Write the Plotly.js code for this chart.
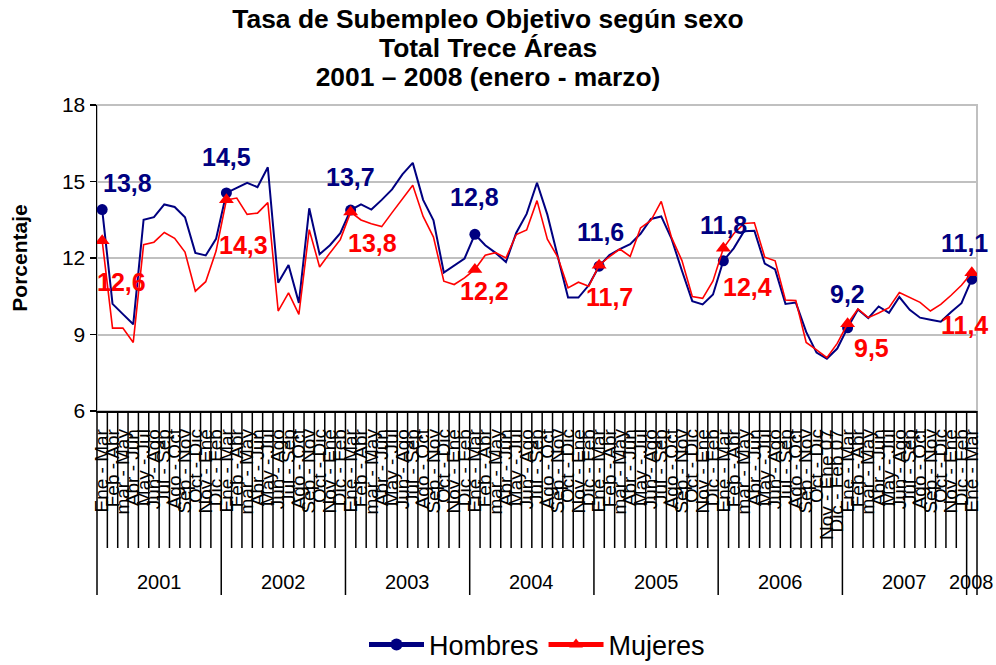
<!DOCTYPE html>
<html>
<head>
<meta charset="utf-8">
<script src="https://cdn.plot.ly/plotly-3.0.1.min.js"></script>
<style>html,body{margin:0;padding:0;background:#fff;}#chart{width:996px;height:665px;}</style>
</head>
<body>
<div id="chart"></div>
<script>
const years = ['2001','2002','2003','2004','2005','2006','2007','2008'];
const yearCounts = [12,12,12,12,12,12,12,1];
const periods = [
 'Ene - Mar','Feb - Abr','mar - May','Abr - Jun','May - Jul','Jun - Ago','Jul - Sep','Ago - Oct','Sep - Nov','Oct - Dic','Nov - Ene','Dic - Feb',
 'Ene - Mar','Feb - Abr','mar - May','Abr - Jun','May - Jul','Jun - Ago','Jul - Sep','Ago - Oct','Sep - Nov','Oct - Dic','Nov - Ene','Dic - Feb',
 'Ene - Mar','Feb - Abr','mar - May','Abr - Jun','May - Jul','Jun - Ago','Jul - Sep','Ago - Oct','Sep - Nov','Oct - Dic','Nov - Ene','Dic - Feb',
 'Ene - Mar','Feb - Abr','mar - May','Abr - Jun','May - Jul','Jun - Ago','Jul - Sep','Ago - Oct','Sep - Nov','Oct - Dic','Nov - Ene','Dic - Feb',
 'Ene - Mar','Feb - Abr','mar - May','Abr - Jun','May - Jul','Jun - Ago','Jul - Sep','Ago - Oct','Sep - Nov','Oct - Dic','Nov - Ene','Dic - Feb',
 'Ene - Mar','Feb - Abr','mar - May','Abr - Jun','May - Jul','Jun - Ago','Jul - Sep','Ago - Oct','Sep - Nov','Oct - Dic','Nov - Ene 07','Dic - Feb 07',
 'Ene - Mar','Feb - Abr','mar - May','Abr - Jun','May - Jul','Jun - Ago','Jul - Sep','Ago - Oct','Sep - Nov','Oct - Dic','Nov - Ene','Dic - Feb',
 'Ene - Mar'
];
const hombres = [
 13.9,10.2,9.8,9.4,13.5,13.6,14.1,14.0,13.6,12.2,12.1,12.75,
 14.55,14.75,14.95,14.78,15.56,11.03,11.73,10.24,13.95,12.15,12.5,12.97,
 13.88,14.1,13.9,14.28,14.69,15.28,15.73,14.28,13.48,11.43,11.7,11.98,
 12.93,12.5,12.2,11.84,12.99,13.73,14.95,13.7,12.07,10.45,10.45,10.93,
 11.68,12.12,12.35,12.54,12.95,13.53,13.63,12.75,11.5,10.31,10.18,10.57,
 11.89,12.38,13.05,13.07,11.78,11.55,10.2,10.25,9.1,8.29,8.05,8.45,
 9.26,9.98,9.64,10.1,9.85,10.47,9.97,9.66,9.58,9.5,9.88,10.23,
 11.17
];
const mujeres = [
 12.68,9.25,9.25,8.69,12.52,12.62,13.0,12.77,12.23,10.7,11.07,12.27,
 14.28,14.35,13.71,13.76,14.17,9.92,10.63,9.79,13.11,11.65,12.2,12.72,
 13.8,13.49,13.34,13.23,13.78,14.32,14.85,13.63,12.82,11.09,10.96,11.22,
 11.55,12.11,12.21,12.0,12.92,13.1,14.25,12.74,12.04,10.83,11.05,10.89,
 11.72,12.05,12.35,12.06,13.18,13.47,14.22,12.8,11.9,10.49,10.42,11.1,
 12.38,12.95,13.35,13.38,12.03,11.89,10.35,10.33,8.69,8.4,8.09,8.65,
 9.42,10.0,9.66,9.84,10.05,10.65,10.44,10.26,9.92,10.18,10.54,10.93,
 11.42
];
const hombresLabels = ['13,8','14,5','13,7','12,8','11,6','11,8','9,2','11,1'];
const mujeresLabels = ['12,6','14,3','13,8','12,2','11,7','12,4','9,5','11,4'];
const titleLines = ['Tasa de Subempleo Objetivo según sexo', 'Total Trece Áreas', '2001 – 2008 (enero - marzo)'];

// label placement offsets (pixels)
const hOff = [[25,27],[0,36],[0,33],[0,37],[1,34],[0,36],[0,34],[-7,36]];
const mOff = [[19,-41],[17,-45],[22,-31],[10,-22],[10,-32],[24,-39],[24,-24],[-7,-52]];

const N = periods.length;
const idx = periods.map((_, i) => i);
const starts = [];
{ let s = 0; yearCounts.forEach(c => { starts.push(s); s += c; }); }
const isStart = idx.map(i => starts.includes(i));

const FONT = 'Arial, "Liberation Sans", sans-serif';
const NAVY = '#000080', RED = '#FF0000';

const traces = [
  { x: idx, y: hombres, name: 'Hombres', type: 'scatter', mode: 'lines+markers',
    line: {color: NAVY, width: 2},
    marker: {symbol: 'circle', color: NAVY, opacity: 1, size: isStart.map(b => b ? 11 : 0), line: {width: 0}} },
  { x: idx, y: mujeres, name: 'Mujeres', type: 'scatter', mode: 'lines+markers',
    line: {color: RED, width: 1.6},
    marker: {symbol: 'triangle-up', color: RED, opacity: 1, size: isStart.map(b => b ? 13 : 0), line: {width: 0}} }
];

const annotations = [];
starts.forEach((s, k) => {
  annotations.push({ x: s, y: hombres[s], xref: 'x', yref: 'y', text: hombresLabels[k], showarrow: false,
    xshift: hOff[k][0], yshift: hOff[k][1], font: {family: FONT, size: 25, color: NAVY, weight: 'bold'} });
  annotations.push({ x: s, y: mujeres[s], xref: 'x', yref: 'y', text: mujeresLabels[k], showarrow: false,
    xshift: mOff[k][0], yshift: mOff[k][1], font: {family: FONT, size: 25, color: RED, weight: 'bold'} });
});
const plotH = 306, plotW = 880;
starts.forEach((s, k) => {
  annotations.push({ x: (s + yearCounts[k] / 2) / N, y: -171 / plotH, xref: 'paper', yref: 'paper',
    text: years[k], showarrow: false, xanchor: 'center', yanchor: 'middle',
    font: {family: FONT, size: 20, color: '#000'} });
});

const shapes = [
  { type: 'rect', xref: 'paper', yref: 'paper', x0: 0, x1: 1, y0: 0, y1: 1, layer: 'below',
    line: {color: '#c0c0c0', width: 2} }
];
for (let k = 0; k <= N; k++) {
  const isYear = starts.includes(k) || k === N;
  shapes.push({ type: 'line', xref: 'paper', yref: 'paper', x0: k / N, x1: k / N, y0: 0,
    y1: isYear ? -184 / plotH : -137 / plotH, line: {color: '#000', width: 1.5} });
}

const layout = {
  width: 996, height: 665,
  margin: {l: 97, r: 19, t: 105, b: 254, autoexpand: false},
  paper_bgcolor: '#fff', plot_bgcolor: '#fff',
  font: {family: FONT, color: '#000'},
  title: {text: titleLines.map(t => '<span style="font-size:26.4px">' + t + '</span>').join('<br>'),
    font: {family: FONT, size: 22.5, color: '#000', weight: 'bold'},
    x: 0.49, xanchor: 'center', xref: 'container', y: 0.958, yanchor: 'top', yref: 'container'},
  xaxis: {range: [-0.5, N - 0.5], tickmode: 'array', tickvals: idx, ticktext: periods, tickangle: -90,
    tickfont: {family: FONT, size: 19, color: '#000'}, ticks: 'outside', ticklen: 9, tickcolor: 'rgba(0,0,0,0)',
    showgrid: false, zeroline: false,
    showline: true, linecolor: '#000', linewidth: 1.5, automargin: false},
  yaxis: {range: [6, 18], dtick: 3, tick0: 6, ticks: 'outside', ticklen: 6, tickwidth: 1.5, tickcolor: '#000',
    tickfont: {family: FONT, size: 21, color: '#000'}, showgrid: true, gridcolor: '#c0c0c0', gridwidth: 2,
    zeroline: false, showline: true, linecolor: '#000', linewidth: 1.5, automargin: false,
    title: {text: 'Porcentaje', font: {family: FONT, size: 21, color: '#000', weight: 'bold'}, standoff: 28}},
  showlegend: true,
  legend: {orientation: 'h', x: 0.5, xanchor: 'center', y: -234 / plotH, yanchor: 'middle',
    itemsizing: 'constant', itemwidth: 55,
    font: {family: FONT, size: 27, color: '#000'}, bgcolor: 'rgba(0,0,0,0)'},
  annotations: annotations,
  shapes: shapes
};

Plotly.newPlot('chart', traces, layout, {displayModeBar: false, staticPlot: true});
</script>
</body>
</html>
